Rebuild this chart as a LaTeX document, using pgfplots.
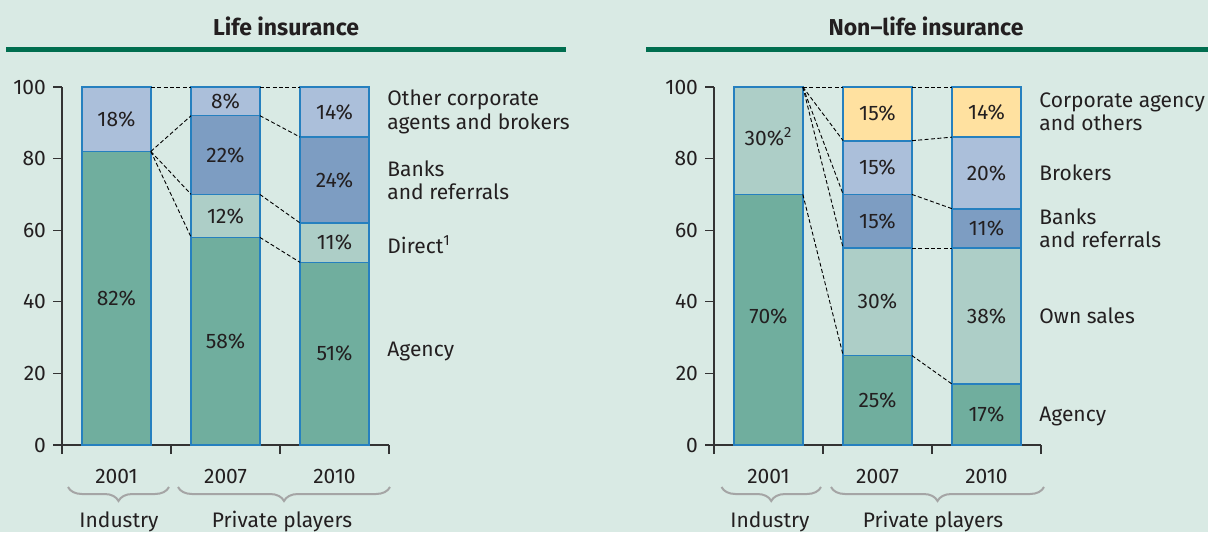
\documentclass[border=0pt]{standalone}
\usepackage{fontspec}
\setmainfont{Fira Sans}
\usepackage{pgfplots}
\pgfplotsset{compat=1.18}
\usetikzlibrary{decorations.pathreplacing}
\definecolor{bg}{HTML}{D9EAE4}
\definecolor{agency}{HTML}{70AE9E}
\definecolor{lteal}{HTML}{ADCEC7}
\definecolor{banks}{HTML}{7D9DC2}
\definecolor{lblue}{HTML}{ABBFDA}
\definecolor{yell}{HTML}{FFE1A0}
\definecolor{edge}{HTML}{2680BF}
\definecolor{rulec}{HTML}{006E4F}
\definecolor{bracec}{HTML}{A5A5A5}
\definecolor{txt}{HTML}{231F20}
\definecolor{axc}{HTML}{333333}
\pgfplotsset{
 panel/.style={at={#1}, anchor=south west, scale only axis, width=163.5pt, height=179pt,
   xmin=-0.5, xmax=2.5, ymin=0, ymax=100, clip=false},
 barpanel/.style={ybar stacked, bar width=0.63,
   axis x line*=bottom, axis y line*=left,
   axis line style={draw=axc, line width=0.6pt},
   tick align=outside, major tick length=4.5pt,
   tick style={draw=axc, line width=0.6pt},
   xtick={-0.5,0.5,1.5,2.5}, xticklabels={,,,},
   extra x ticks={0,1,2}, extra x tick labels={2001,2007,2010},
   extra x tick style={major tick length=0pt, xticklabel style={yshift=-8.5pt}},
   ytick={0,20,40,60,80,100},
   ticklabel style={font=\fontsize{10.5}{12}\selectfont, text=txt},
   /pgf/number format/assume math mode=true,
   every axis plot/.append style={draw=edge, line width=0.8pt}},
 linepanel/.style={hide axis},
 conn/.style={black, line width=0.45pt, dash pattern=on 2pt off 1.2pt, mark=none, forget plot},
}
\tikzset{
 seg/.style={font=\fontsize{10.5}{12}\selectfont, text=txt},
 lab/.style={font=\fontsize{10.5}{11.7}\selectfont, text=txt, align=left, anchor=west, inner sep=0pt, xshift=-1pt},
 brc/.style={draw=bracec, line width=1pt, decorate, decoration={brace, mirror, amplitude=7pt}},
 grp/.style={font=\fontsize{10.5}{12}\selectfont, text=txt, anchor=base},
}
\begin{document}
\begin{tikzpicture}[x=1pt,y=1pt]
\fill[bg] (0,0) rectangle (604,266);
\useasboundingbox (0,0) rectangle (604,266);
% titles and rules
\node[font=\fontsize{11.5}{13}\selectfont\bfseries, text=txt] at (143,253) {Life insurance};
\node[font=\fontsize{11.5}{13}\selectfont\bfseries, text=txt] at (463,253) {Non--life insurance};
\fill[rulec] (3,240) rectangle (283,242.6);
\fill[rulec] (323,240) rectangle (604,242.6);

% ---------- Life insurance ----------
\begin{axis}[panel={(31pt,43.5pt)}, barpanel]
\addplot[fill=agency] coordinates {(0,82) (1,58) (2,51)};
\addplot[fill=lteal]  coordinates {(0,0) (1,12) (2,11)};
\addplot[fill=banks]  coordinates {(0,0) (1,22) (2,24)};
\addplot[fill=lblue]  coordinates {(0,18) (1,8) (2,14)};
\end{axis}
\begin{axis}[panel={(31pt,43.5pt)}, linepanel]
\addplot[conn] coordinates {(0.315,100) (0.685,100)};
\addplot[conn] coordinates {(0.315,82) (0.685,92)};
\addplot[conn] coordinates {(0.315,82) (0.685,70)};
\addplot[conn] coordinates {(0.315,82) (0.685,58)};
\addplot[conn] coordinates {(1.315,100) (1.685,100)};
\addplot[conn] coordinates {(1.315,92) (1.685,86)};
\addplot[conn] coordinates {(1.315,70) (1.685,62)};
\addplot[conn] coordinates {(1.315,58) (1.685,51)};
\node[seg] at (axis cs:0,41) {82\%};
\node[seg] at (axis cs:0,91) {18\%};
\node[seg] at (axis cs:1,29) {58\%};
\node[seg] at (axis cs:1,64) {12\%};
\node[seg] at (axis cs:1,81) {22\%};
\node[seg] at (axis cs:1,96) {8\%};
\node[seg] at (axis cs:2,25.5) {51\%};
\node[seg] at (axis cs:2,56.5) {11\%};
\node[seg] at (axis cs:2,74) {24\%};
\node[seg] at (axis cs:2,93) {14\%};
\node[lab] at (axis cs:2.5,93) {Other corporate\\agents and brokers};
\node[lab] at (axis cs:2.5,74) {Banks\\and referrals};
\node[lab] at (axis cs:2.5,56) {Direct\textsuperscript{1}};
\node[lab] at (axis cs:2.5,26) {Agency};
\end{axis}
\draw[brc] (34,22.5) -- (84.5,22.5);
\draw[brc] (89,22.5) -- (195,22.5);
\node[grp] at (59.5,2.5) {Industry};
\node[grp] at (141,2.5) {Private players};

% ---------- Non-life insurance ----------
\begin{axis}[panel={(357pt,43.5pt)}, barpanel]
\addplot[fill=agency] coordinates {(0,70) (1,25) (2,17)};
\addplot[fill=lteal]  coordinates {(0,30) (1,30) (2,38)};
\addplot[fill=banks]  coordinates {(0,0) (1,15) (2,11)};
\addplot[fill=lblue]  coordinates {(0,0) (1,15) (2,20)};
\addplot[fill=yell]   coordinates {(0,0) (1,15) (2,14)};
\end{axis}
\begin{axis}[panel={(357pt,43.5pt)}, linepanel]
\addplot[conn] coordinates {(0.315,100) (0.685,100)};
\addplot[conn] coordinates {(0.315,100) (0.685,85)};
\addplot[conn] coordinates {(0.315,100) (0.685,70)};
\addplot[conn] coordinates {(0.315,100) (0.685,55)};
\addplot[conn] coordinates {(0.315,70) (0.685,25)};
\addplot[conn] coordinates {(1.315,100) (1.685,100)};
\addplot[conn] coordinates {(1.315,85) (1.685,86)};
\addplot[conn] coordinates {(1.315,70) (1.685,66)};
\addplot[conn] coordinates {(1.315,55) (1.685,55)};
\addplot[conn] coordinates {(1.315,25) (1.685,17)};
\node[seg] at (axis cs:0,36) {70\%};
\node[seg] at (axis cs:0,86) {30\%\textsuperscript{2}};
\node[seg] at (axis cs:1,12.5) {25\%};
\node[seg] at (axis cs:1,40) {30\%};
\node[seg] at (axis cs:1,62.5) {15\%};
\node[seg] at (axis cs:1,77.5) {15\%};
\node[seg] at (axis cs:1,92.5) {15\%};
\node[seg] at (axis cs:2,8.5) {17\%};
\node[seg] at (axis cs:2,36) {38\%};
\node[seg] at (axis cs:2,60.5) {11\%};
\node[seg] at (axis cs:2,76) {20\%};
\node[seg] at (axis cs:2,93) {14\%};
\node[lab] at (axis cs:2.5,93) {Corporate agency\\and others};
\node[lab] at (axis cs:2.5,76) {Brokers};
\node[lab] at (axis cs:2.5,60.5) {Banks\\and referrals};
\node[lab] at (axis cs:2.5,36) {Own sales};
\node[lab] at (axis cs:2.5,8) {Agency};
\end{axis}
\draw[brc] (360.75,22.5) -- (410.5,22.5);
\draw[brc] (415.5,22.5) -- (522,22.5);
\node[grp] at (385,2.5) {Industry};
\node[grp] at (466.5,2.5) {Private players};
\end{tikzpicture}
\end{document}
